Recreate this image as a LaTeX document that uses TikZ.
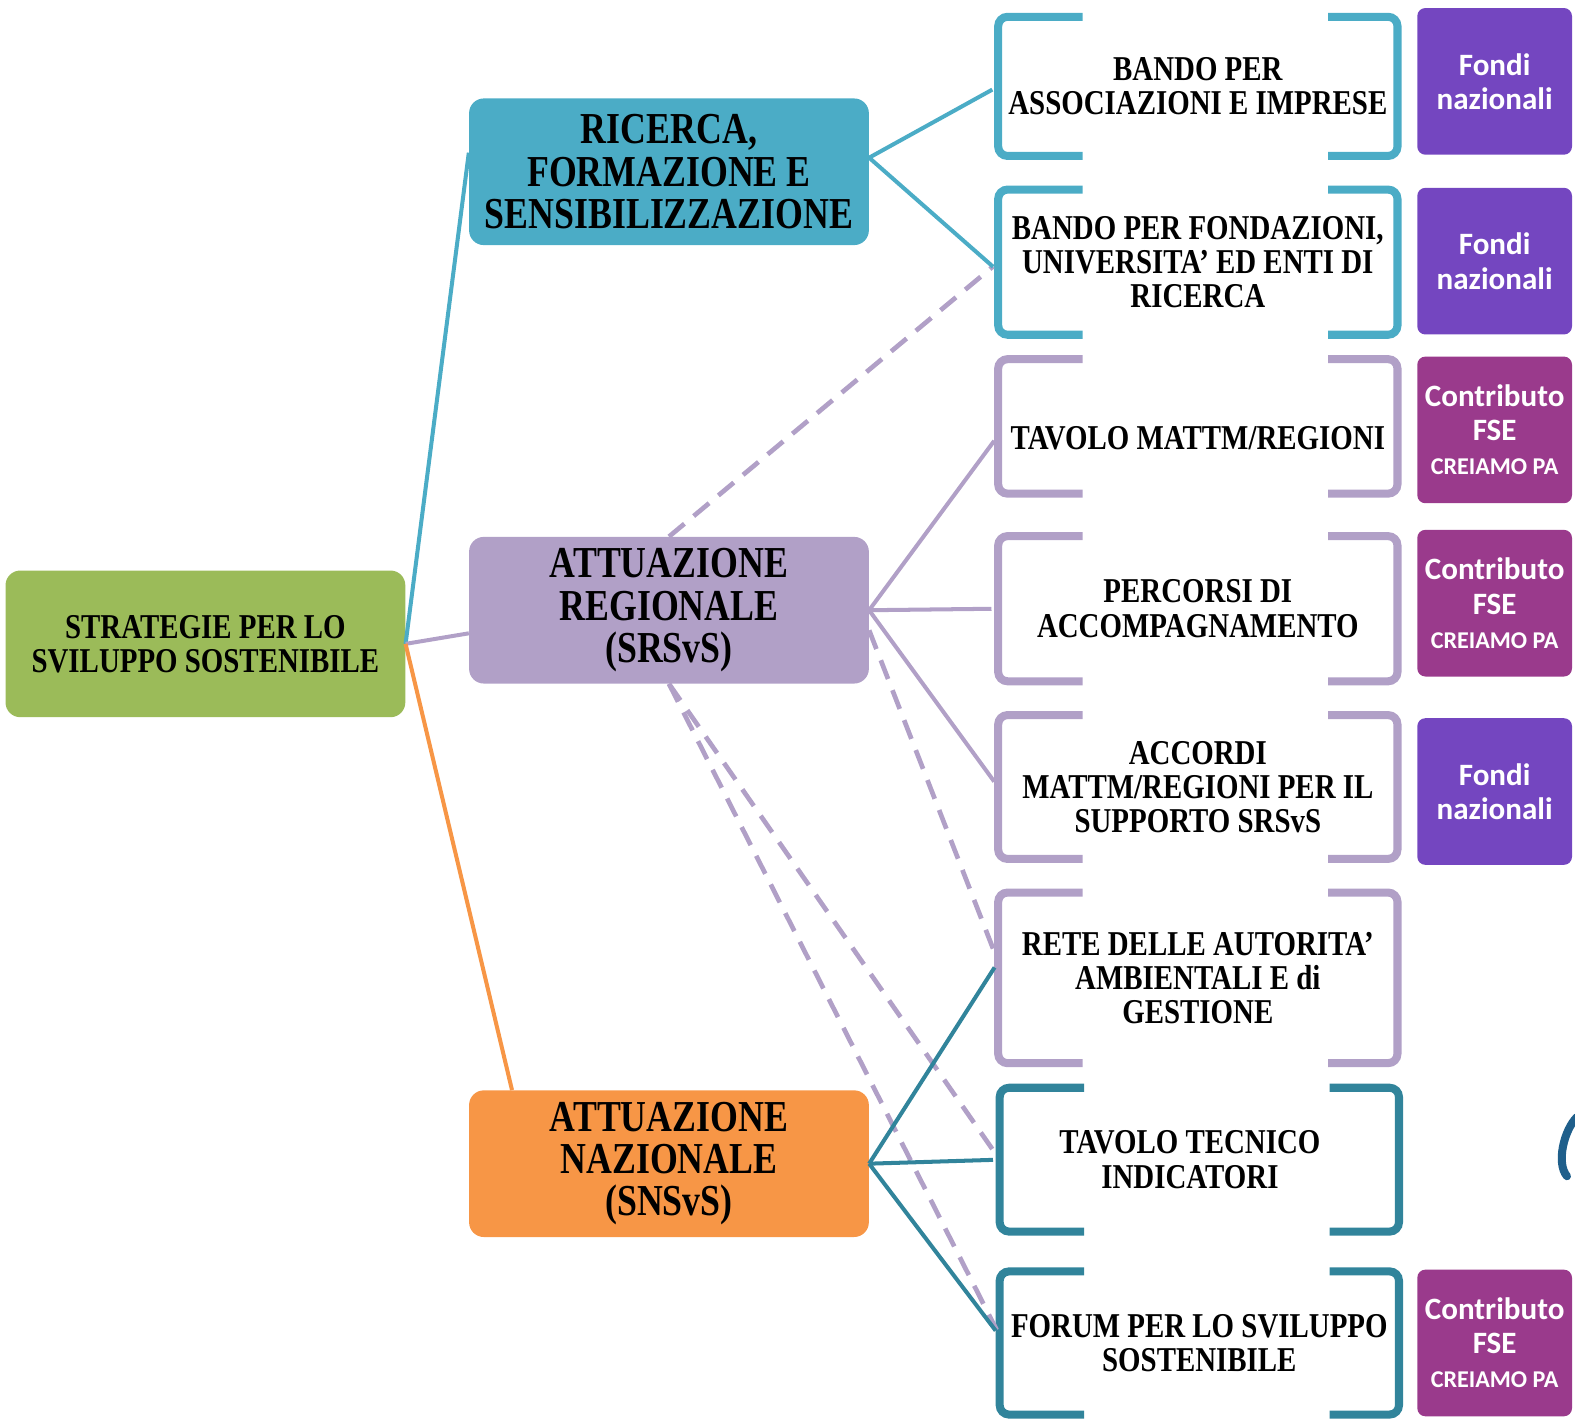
\documentclass[tikz,border=0pt]{standalone}
\usepackage{fontspec}
\setmainfont[FakeStretch=0.83]{Liberation Serif}
\newfontfamily\fondifont{Carlito}
\newfontfamily\mainboxfont[FakeStretch=0.81]{Liberation Serif}
\usepackage{tikz}
\usetikzlibrary{positioning,calc}

\definecolor{rootgreen}{HTML}{9BBB59}
\definecolor{ricblue}{HTML}{4BACC6}
\definecolor{reglilac}{HTML}{B1A0C7}
\definecolor{nazorange}{HTML}{F79646}
\definecolor{nazteal}{HTML}{31849B}
\definecolor{fondiviolet}{HTML}{7446C0}
\definecolor{fsemagenta}{HTML}{9A3A8C}
\definecolor{logoblue}{HTML}{1F5F8B}

\tikzset{
  mainbox/.style={rounded corners=11pt, minimum width=298.5pt, minimum height=109.5pt,
    inner sep=0pt, align=center, font=\mainboxfont\bfseries\fontsize{33}{31.5}\selectfont},
  rootbox/.style={mainbox, fill=rootgreen, font=\rmfamily\bfseries\fontsize{26}{25.5}\selectfont},
  brk/.style={minimum width=297.75pt, inner sep=0pt, align=center,
    font=\bfseries\fontsize{26}{25.5}\selectfont},
  fondo/.style={fill=fondiviolet, rounded corners=6pt, minimum width=115.5pt,
    minimum height=109.5pt, inner sep=0pt, text=white, align=center,
    font=\fondifont\bfseries\fontsize{23.2}{25.5}\selectfont},
  fse/.style={fondo, fill=fsemagenta},
  link/.style={line width=3pt, shorten >=5pt},
  dashlink/.style={reglilac, line width=3.5pt, dash pattern=on 15pt off 9pt, shorten >=5pt}
}

% bracket sides round a node: #1 node, #2 colour
\newcommand{\bracketbox}[2]{%
  \draw[#2, line width=6pt, rounded corners=7pt]
    ($(#1.north west)+(84,0)$) -- (#1.north west) -- (#1.south west) -- ($(#1.south west)+(84,0)$);
  \draw[#2, line width=6pt, rounded corners=7pt]
    ($(#1.north east)+(-69,0)$) -- (#1.north east) -- (#1.south east) -- ($(#1.south east)+(-69,0)$);
}
\newcommand{\creiamo}{{\fontsize{18}{20}\selectfont CREIAMO PA}}

\begin{document}
\begin{tikzpicture}[x=0.75pt,y=0.75pt,yscale=-1,xscale=1]
\useasboundingbox (0,0) rectangle (1568,1417);

% Main boxes
\node[rootbox] (root) at (204.5,641) {STRATEGIE PER LO\\SVILUPPO SOSTENIBILE};
\node[mainbox, fill=ricblue] (ric) at (666,171) {RICERCA,\\FORMAZIONE E\\SENSIBILIZZAZIONE};
\node[mainbox, fill=reglilac] (reg) at (666,607.5) {ATTUAZIONE\\REGIONALE\\(SRSvS)};
\node[mainbox, fill=nazorange] (naz) at (666,1158.5) {ATTUAZIONE\\NAZIONALE\\(SNSvS)};

% Bracket boxes
\node[brk, minimum height=103.5pt] (b1) at (1192.5,86) {BANDO PER\\ASSOCIAZIONI E IMPRESE};
\node[brk, minimum height=108pt] (b2) at (1192.5,261) {BANDO PER FONDAZIONI,\\UNIVERSITA' ED ENTI DI\\RICERCA};
\node[brk, minimum height=100pt] (b3) at (1192.5,424.5) {\raisebox{-17pt}[0pt][0pt]{TAVOLO MATTM/REGIONI}};
\node[brk, minimum height=108pt] (b4) at (1192.5,606) {PERCORSI DI\\ACCOMPAGNAMENTO};
\node[brk, minimum height=107pt] (b5) at (1192.5,783.5) {ACCORDI\\MATTM/REGIONI PER IL\\SUPPORTO SRSvS};
\node[brk, minimum height=127pt] (b6) at (1192.5,973.5) {RETE DELLE AUTORITA'\\AMBIENTALI E di\\GESTIONE};
\node[brk, minimum height=107pt] (b7) at (1194,1154.5) {\hspace*{-14pt}TAVOLO TECNICO\\\hspace*{-14pt}INDICATORI};
\node[brk, minimum height=106.5pt] (b8) at (1194,1337) {FORUM PER LO SVILUPPO\\SOSTENIBILE};

\bracketbox{b1}{ricblue}
\bracketbox{b2}{ricblue}
\bracketbox{b3}{reglilac}
\bracketbox{b4}{reglilac}
\bracketbox{b5}{reglilac}
\bracketbox{b6}{reglilac}
\bracketbox{b7}{nazteal}
\bracketbox{b8}{nazteal}

% Funding boxes
\node[fondo] (f1) at (1488,81) {Fondi\\nazionali};
\node[fondo] (f2) at (1488,260) {Fondi\\nazionali};
\node[fse] (f3) at (1488,428) {Contributo\\FSE\\\creiamo};
\node[fse] (f4) at (1488,600.5) {Contributo\\FSE\\\creiamo};
\node[fondo] (f5) at (1488,788) {Fondi\\nazionali};
\node[fse] (f6) at (1488,1337) {Contributo\\FSE\\\creiamo};

% Links from the root
\draw[link, ricblue, shorten >=0pt] (root.east) -- ($(ric.west)+(0,-19)$);
\draw[link, reglilac, shorten >=0pt] (root.east) -- ($(reg.west)+(0,23)$);
\draw[link, nazorange, shorten >=0pt] (root.east) -- ($(naz.north west)+(43,0)$);

% Dashed links
\draw[dashlink] (reg.north) -- (b2.west);
\draw[dashlink] ($(reg.east)+(0,20)$) -- ($(b6.west)+(0,-16)$);
\draw[dashlink] (reg.south) -- (b7.west);
\draw[dashlink] (reg.south) -- ($(b8.west)+(0,-7)$);

% Links to the brackets
\draw[link, ricblue] ($(ric.east)+(0,-14)$) -- (b1.west);
\draw[link, ricblue] ($(ric.east)+(0,-14)$) -- ($(b2.west)+(0,9)$);
\draw[link, reglilac] (reg.east) -- ($(b3.west)+(0,9)$);
\draw[link, reglilac] (reg.east) -- (b4.west);
\draw[link, reglilac] (reg.east) -- (b5.west);
\draw[link, nazteal] (naz.east) -- ($(b6.west)+(0,-16)$);
\draw[link, nazteal] (naz.east) -- (b7.west);
\draw[link, nazteal] (naz.east) -- ($(b8.west)+(0,-7)$);

%Shape: cut logo at the right edge
\draw[logoblue, line width=6pt, line cap=round] (1570,1112) .. controls (1557,1125) and (1549,1158) .. (1560,1171);

\end{tikzpicture}
\end{document}
